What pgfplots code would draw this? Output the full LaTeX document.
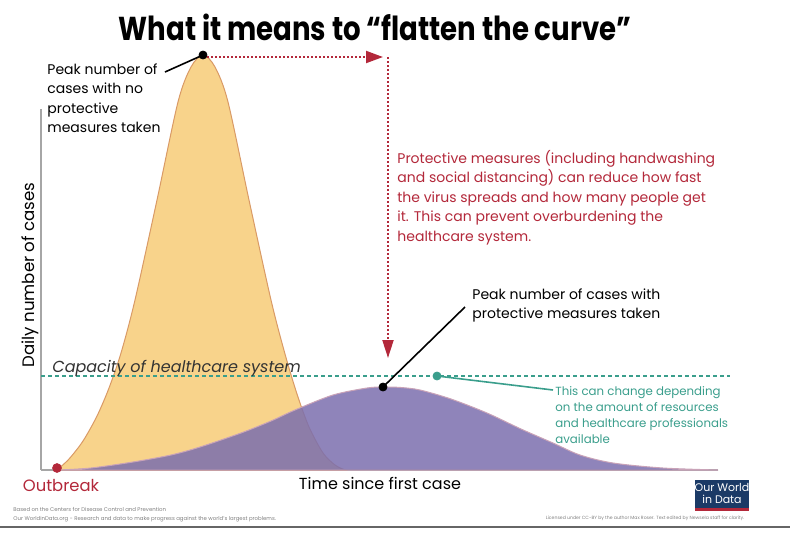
\documentclass[border=0pt]{standalone}
\usepackage{pgfplots}
\pgfplotsset{compat=1.18}
\usepackage{fontspec}
\setmainfont{Poppins}
\usetikzlibrary{arrows.meta}

\definecolor{owidred}{HTML}{B3283A}
\definecolor{owidteal}{HTML}{3A9E8C}
\definecolor{orangefill}{HTML}{F8D38B}
\definecolor{orangeedge}{HTML}{D99A66}
\definecolor{purplefill}{HTML}{7B6FAE}
\definecolor{purpleedge}{HTML}{C9A3B8}
\definecolor{owidnavy}{HTML}{1B3A66}

\newcommand{\body}{\fontsize{7pt}{9.75pt}\selectfont}

\begin{document}
\begin{tikzpicture}
\begin{axis}[
    scale only axis,
    width=338.5pt, height=180.5pt,
    xmin=0, xmax=677, ymin=0, ymax=361,
    axis lines=left,
    axis line style={-, draw=gray!70, line width=0.7pt},
    xtick=\empty, ytick=\empty,
    clip=false,
]
% picture frame (800 x 543 px, 1 px = 0.5pt)
\coordinate (bbsw) at (axis cs:-41,-73);
\coordinate (bbne) at (axis cs:759,470);

% no protective measures
\addplot[fill=orangefill, draw=orangeedge, line width=0.5pt, smooth, tension=0.5]
coordinates {
    (16,0) (28,11) (42,29) (56,54) (68,82) (80,117) (94,170) (116,270)
    (137,368) (150,403) (162,415) (174,403) (187,368) (208,270) (230,170)
    (244,116) (256,76) (268,43) (282,17) (294,5) (304,0)
} \closedcycle;

% with protective measures
\addplot[fill=purplefill, fill opacity=0.85, draw=purpleedge, line width=0.5pt, smooth, tension=0.5]
coordinates {
    (18,0) (50,2) (92,8) (130,15) (159,23) (200,37) (230,49) (254,60)
    (292,75) (326,82) (342,83) (360,82.5) (379,80) (410,71) (446,57)
    (480,41) (512,27) (539,15) (572,7) (622,2) (677,0)
} \closedcycle;

% capacity of healthcare system
\addplot[owidteal, line width=0.9pt, dash pattern=on 2pt off 1.5pt]
coordinates {(0,94) (689,94)};
\node[anchor=base west, inner sep=0pt, font=\fontsize{8pt}{9pt}\selectfont\itshape, text=black!80]
    at (axis cs:11,98) {Capacity of healthcare system};

% red arrows
\draw[owidred, line width=1pt, dash pattern=on 1pt off 1pt,
      -{Triangle[length=8.5pt, width=6pt]}]
    (axis cs:166,413) -- (axis cs:342,413);
\draw[owidred, line width=1pt, dash pattern=on 1pt off 1pt,
      -{Triangle[length=9pt, width=5.5pt]}]
    (axis cs:347,413) -- (axis cs:347,112);
\node[anchor=north west, align=left, text=owidred, font=\body, inner sep=0pt]
    at (axis cs:356,320) {Protective measures (including handwashing\\
    and social distancing) can reduce how fast\\
    the virus spreads and how many people get\\
    it. This can prevent overburdening the\\
    healthcare system.};

% peak annotations
\draw[black, line width=0.8pt] (axis cs:124,398) -- (axis cs:162,415);
\node[anchor=north west, align=left, font=\body, inner sep=0pt]
    at (axis cs:6,407) {Peak number of\\cases with no\\protective\\measures taken};
\draw[black, line width=0.8pt] (axis cs:424,163) -- (axis cs:342,83);
\node[anchor=north west, align=left, font=\body, inner sep=0pt]
    at (axis cs:431,182) {Peak number of cases with\\protective measures taken};

% capacity annotation
\draw[owidteal, line width=0.8pt] (axis cs:396,94) -- (axis cs:512,80);
\node[anchor=north west, align=left, text=owidteal,
      font=\fontsize{5.9pt}{8pt}\selectfont, inner sep=0pt]
    at (axis cs:514,84) {This can change depending\\on the amount of resources\\and healthcare professionals\\available};

% dots
\addplot[only marks, mark=*, mark size=2pt, black] coordinates {(162,415) (342,83)};
\addplot[only marks, mark=*, mark size=2pt, owidteal] coordinates {(396,94)};
\addplot[only marks, mark=*, mark size=2.2pt, owidred] coordinates {(16,2)};

% axis texts
\node[rotate=90, font=\fontsize{8.3pt}{9pt}\selectfont] at (axis cs:-11,195) {Daily number of cases};
\node[text=owidred, font=\fontsize{8.2pt}{9pt}\selectfont] at (axis cs:20,-16) {Outbreak};
\node[font=\fontsize{8pt}{9pt}\selectfont] at (axis cs:339,-13) {Time since first case};

% title
\node[font=\fontsize{13.8pt}{16pt}\selectfont\bfseries] at (axis cs:334,443)
    {\scalebox{1}[1.2]{What it means to “flatten the curve”}};

% footer
\node[anchor=north west, align=left, text=gray, inner sep=0pt,
      font=\fontsize{2.7pt}{4.5pt}\selectfont] at (axis cs:-28,-37)
    {Based on the Centers for Disease Control and Prevention\\
     Our WorldinData.org - Research and data to make progress against the world's largest problems.};
\node[text=gray, inner sep=0pt, font=\fontsize{2.3pt}{3pt}\selectfont]
    at (axis cs:604,-48)
    {Licensed under CC-BY by the author Max Roser. Text edited by Newsela staff for clarity.};
\fill[owidnavy] (axis cs:654,-10) rectangle (axis cs:708,-41);
\fill[owidred] (axis cs:654,-38) rectangle (axis cs:708,-41);
\node[text=white, align=center, inner sep=0pt, font=\fontsize{5.5pt}{6.4pt}\selectfont]
    at (axis cs:681,-23.5) {Our World\\in Data};
\draw[gray!80!black, line width=0.7pt] (axis cs:-41,-57) -- (axis cs:749,-57);
\end{axis}
\pgfresetboundingbox
\path (bbsw) rectangle (bbne);
\end{tikzpicture}
\end{document}
